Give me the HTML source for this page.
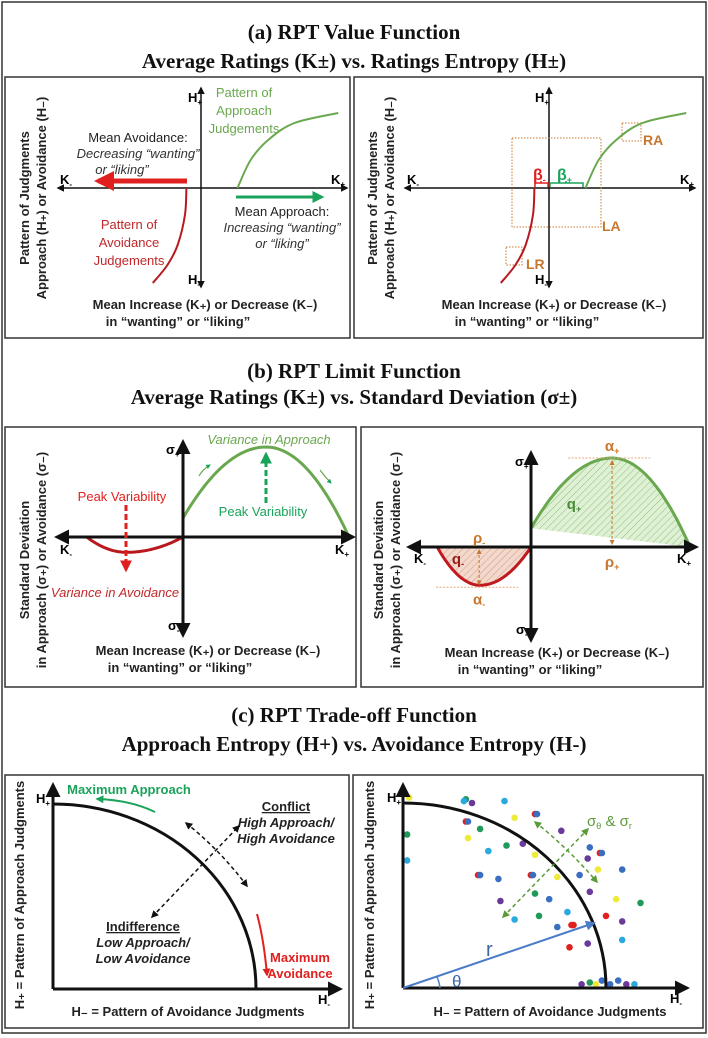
<!DOCTYPE html>
<html><head><meta charset="utf-8">
<style>
html,body{margin:0;padding:0;background:#fff;}
svg{display:block;font-family:"Liberation Sans",sans-serif;}
.ttl{font-family:"Liberation Serif",serif;font-weight:bold;font-size:21px;fill:#111;text-anchor:middle;}
.ax{font-weight:bold;font-size:13px;fill:#222;text-anchor:middle;}
.lab{font-size:13px;text-anchor:middle;}
.box{fill:none;stroke:#333;stroke-width:1.5;}
</style></head>
<body>
<svg id="fig" width="708" height="1038" viewBox="0 0 708 1038" xmlns="http://www.w3.org/2000/svg">
<defs>
<marker id="mk" viewBox="0 0 10 10" refX="8" refY="5" markerWidth="5" markerHeight="5" orient="auto-start-reverse"><path d="M0,0L10,5L0,10z" fill="#111"/></marker>
<marker id="mr" viewBox="0 0 10 10" refX="8" refY="5" markerWidth="4" markerHeight="4" orient="auto-start-reverse"><path d="M0,0L10,5L0,10z" fill="#e0201f"/></marker>
<marker id="mg" viewBox="0 0 10 10" refX="8" refY="5" markerWidth="4" markerHeight="4" orient="auto-start-reverse"><path d="M0,0L10,5L0,10z" fill="#1aa35a"/></marker>
<marker id="mo" viewBox="0 0 10 10" refX="8" refY="5" markerWidth="5" markerHeight="5" orient="auto-start-reverse"><path d="M0,0L10,5L0,10z" fill="#c8782e"/></marker>
<marker id="mb" viewBox="0 0 10 10" refX="8" refY="5" markerWidth="5" markerHeight="5" orient="auto-start-reverse"><path d="M0,0L10,5L0,10z" fill="#4a7cc8"/></marker>
<marker id="mgd" viewBox="0 0 10 10" refX="8" refY="5" markerWidth="5" markerHeight="5" orient="auto-start-reverse"><path d="M0,0L10,5L0,10z" fill="#5a9a3a"/></marker>
<pattern id="hatchG" width="5" height="5" patternUnits="userSpaceOnUse" patternTransform="rotate(45)"><rect width="5" height="5" fill="#dff0d4"/><line x1="0" y1="0" x2="0" y2="5" stroke="#8cc47a" stroke-width="1"/></pattern>
<pattern id="hatchR" width="5" height="5" patternUnits="userSpaceOnUse" patternTransform="rotate(45)"><rect width="5" height="5" fill="#f3d8cc"/><line x1="0" y1="0" x2="0" y2="5" stroke="#d49a88" stroke-width="1"/></pattern>
</defs>

<rect x="2" y="2" width="704" height="1031" class="box"/>

<!-- Titles -->
<text x="354" y="39" class="ttl">(a) RPT Value Function</text>
<text x="354" y="68" class="ttl">Average Ratings (K±) vs. Ratings Entropy (H±)</text>
<text x="354" y="378" class="ttl">(b) RPT Limit Function</text>
<text x="354" y="404" class="ttl">Average Ratings (K±) vs. Standard Deviation (σ±)</text>
<text x="354" y="722" class="ttl">(c) RPT Trade-off Function</text>
<text x="354" y="751" class="ttl">Approach Entropy (H+) vs. Avoidance Entropy (H-)</text>

<!-- Panel boxes -->
<rect x="5" y="77" width="345" height="261" class="box"/>
<rect x="354" y="77" width="349" height="261" class="box"/>
<rect x="5" y="427" width="351" height="260" class="box"/>
<rect x="361" y="427" width="342" height="260" class="box"/>
<rect x="5" y="775" width="344" height="253" class="box"/>
<rect x="353" y="775" width="350" height="253" class="box"/>

<!-- ===== Panel a left ===== -->
<g>
<line x1="201" y1="287" x2="201" y2="88" stroke="#111" stroke-width="1.5" marker-end="url(#mk)" marker-start="url(#mk)"/>
<line x1="58" y1="188" x2="347" y2="188" stroke="#111" stroke-width="1.5" marker-end="url(#mk)" marker-start="url(#mk)"/>
<text x="188" y="102" font-size="13" font-weight="bold">H<tspan font-size="8" dy="3">+</tspan></text>
<text x="188" y="284" font-size="13" font-weight="bold">H<tspan font-size="8" dy="3">-</tspan></text>
<text x="60" y="184" font-size="13" font-weight="bold">K<tspan font-size="8" dy="3">-</tspan></text>
<text x="331" y="184" font-size="13" font-weight="bold">K<tspan font-size="8" dy="3">+</tspan></text>
<g fill="#6aa84f" class="lab">
<text x="244" y="97" class="lab" fill="#6aa84f">Pattern of</text><text x="244" y="115" class="lab" fill="#6aa84f">Approach</text><text x="244" y="133" class="lab" fill="#6aa84f">Judgements</text></g>
<g>
<text x="129" y="229" class="lab" fill="#c0282a">Pattern of</text><text x="129" y="247" class="lab" fill="#c0282a">Avoidance</text><text x="129" y="265" class="lab" fill="#c0282a">Judgements</text></g>
<line x1="187" y1="181" x2="98" y2="181" stroke="#e0201f" stroke-width="5" marker-end="url(#mr)"/>
<line x1="236" y1="197" x2="322" y2="197" stroke="#1aa35a" stroke-width="3" marker-end="url(#mg)"/>
<g>
<text x="138" y="142" class="lab" fill="#222">Mean Avoidance:</text>
<text x="138" y="158" class="lab" fill="#333" font-style="italic" font-size="11.5">Decreasing “wanting”</text>
<text x="122" y="174" class="lab" fill="#333" font-style="italic" font-size="11.5">or “liking”</text></g>
<g>
<text x="282" y="216" class="lab" fill="#222">Mean Approach:</text>
<text x="282" y="232" class="lab" fill="#333" font-style="italic" font-size="11.5">Increasing “wanting”</text>
<text x="282" y="248" class="lab" fill="#333" font-style="italic" font-size="11.5">or “liking”</text></g>
<text transform="translate(29,198) rotate(-90)" class="ax">Pattern of Judgments</text>
<text transform="translate(46,198) rotate(-90)" class="ax">Approach (H₊) or Avoidance (H₋)</text>
<text x="205" y="309" class="ax">Mean Increase (K₊) or Decrease (K₋)</text>
<text x="178" y="326" class="ax">in “wanting” or “liking”</text>
</g>

<!-- ===== Panel a right ===== -->
<g>
<line x1="549" y1="287" x2="549" y2="88" stroke="#111" stroke-width="1.5" marker-end="url(#mk)" marker-start="url(#mk)"/>
<line x1="405" y1="188" x2="695" y2="188" stroke="#111" stroke-width="1.5" marker-end="url(#mk)" marker-start="url(#mk)"/>
<text x="535" y="102" font-size="13" font-weight="bold">H<tspan font-size="8" dy="3">+</tspan></text>
<text x="535" y="284" font-size="13" font-weight="bold">H<tspan font-size="8" dy="3">-</tspan></text>
<text x="407" y="184" font-size="13" font-weight="bold">K<tspan font-size="8" dy="3">-</tspan></text>
<text x="680" y="184" font-size="13" font-weight="bold">K<tspan font-size="8" dy="3">+</tspan></text>
<g fill="none" stroke="#c8782e" stroke-width="1" stroke-dasharray="1.5,1.5">
<rect x="512" y="138" width="89" height="89"/>
<rect x="622" y="123" width="19" height="18"/>
<rect x="506" y="247" width="16" height="18"/>
</g>
<text x="602" y="231" font-size="14" font-weight="bold" fill="#c8782e">LA</text>
<text x="643" y="145" font-size="14" font-weight="bold" fill="#c8782e">RA</text>
<text x="526" y="269" font-size="14" font-weight="bold" fill="#c8782e">LR</text>
<path d="M535,187 V183 H541 V181 M541,183 H548 V187" fill="none" stroke="#e0201f" stroke-width="1.5"/>
<path d="M550,187 V183 H566 V181 M566,183 H583 V187" fill="none" stroke="#1aa35a" stroke-width="1.5"/>
<text x="533" y="180" font-size="16" font-weight="bold" fill="#e0201f">β<tspan font-size="9" dy="3">-</tspan></text>
<text x="557" y="180" font-size="16" font-weight="bold" fill="#1aa35a">β<tspan font-size="9" dy="3">+</tspan></text>
<text transform="translate(377,198) rotate(-90)" class="ax">Pattern of Judgments</text>
<text transform="translate(394,198) rotate(-90)" class="ax">Approach (H₊) or Avoidance (H₋)</text>
<text x="554" y="309" class="ax">Mean Increase (K₊) or Decrease (K₋)</text>
<text x="527" y="326" class="ax">in “wanting” or “liking”</text>
</g>

<!-- ===== Panel b left ===== -->
<g>
<g id="bL"></g>
<line x1="183" y1="635" x2="183" y2="442" stroke="#111" stroke-width="3" marker-end="url(#mk)" marker-start="url(#mk)"/>
<line x1="57" y1="537" x2="353" y2="537" stroke="#111" stroke-width="3" marker-end="url(#mk)" marker-start="url(#mk)"/>
<text x="166" y="454" font-size="13" font-weight="bold">σ<tspan font-size="8" dy="3">+</tspan></text>
<text x="168" y="630" font-size="13" font-weight="bold">σ<tspan font-size="8" dy="3">-</tspan></text>
<text x="60" y="554" font-size="13" font-weight="bold">K<tspan font-size="8" dy="3">-</tspan></text>
<text x="335" y="554" font-size="13" font-weight="bold">K<tspan font-size="8" dy="3">+</tspan></text>
<text x="269" y="444" class="lab" fill="#6aa84f" font-style="italic">Variance in Approach</text>
<text x="263" y="516" class="lab" fill="#1aa35a">Peak Variability</text>
<line x1="266" y1="503" x2="266" y2="454" stroke="#1aa35a" stroke-width="3" stroke-dasharray="6,3" marker-end="url(#mg)"/>
<text x="122" y="501" class="lab" fill="#e0201f">Peak Variability</text>
<line x1="126" y1="505" x2="126" y2="570" stroke="#e0201f" stroke-width="3" stroke-dasharray="6,3" marker-end="url(#mr)"/>
<text x="115" y="597" class="lab" fill="#c0282a" font-style="italic">Variance in Avoidance</text>
<path d="M199,476 Q203,469 210,465" fill="none" stroke="#6aa84f" stroke-width="1.2" marker-end="url(#mg)"/>
<path d="M320,470 Q325,477 331,483" fill="none" stroke="#6aa84f" stroke-width="1.2" marker-end="url(#mg)"/>
<text transform="translate(29,560) rotate(-90)" class="ax">Standard Deviation</text>
<text transform="translate(46,560) rotate(-90)" class="ax">in Approach (σ₊) or Avoidance (σ₋)</text>
<text x="208" y="655" class="ax">Mean Increase (K₊) or Decrease (K₋)</text>
<text x="180" y="672" class="ax">in “wanting” or “liking”</text>
</g>

<!-- ===== Panel b right ===== -->
<g>
<g id="bR"></g>
<line x1="531" y1="640" x2="531" y2="453" stroke="#111" stroke-width="3" marker-end="url(#mk)" marker-start="url(#mk)"/>
<line x1="409" y1="547" x2="696" y2="547" stroke="#111" stroke-width="3" marker-end="url(#mk)" marker-start="url(#mk)"/>
<text x="515" y="466" font-size="13" font-weight="bold">σ<tspan font-size="8" dy="3">+</tspan></text>
<text x="516" y="634" font-size="13" font-weight="bold">σ<tspan font-size="8" dy="3">-</tspan></text>
<text x="414" y="563" font-size="13" font-weight="bold">K<tspan font-size="8" dy="3">-</tspan></text>
<text x="677" y="563" font-size="13" font-weight="bold">K<tspan font-size="8" dy="3">+</tspan></text>
<g id="bRann"></g>
<text transform="translate(383,560) rotate(-90)" class="ax">Standard Deviation</text>
<text transform="translate(400,560) rotate(-90)" class="ax">in Approach (σ₊) or Avoidance (σ₋)</text>
<text x="557" y="657" class="ax">Mean Increase (K₊) or Decrease (K₋)</text>
<text x="530" y="674" class="ax">in “wanting” or “liking”</text>
</g>

<!-- ===== Panel c left ===== -->
<g>
<path d="M53,804 A203,185 0 0 1 256,989" fill="none" stroke="#111" stroke-width="3"/>
<line x1="53" y1="989" x2="53" y2="785" stroke="#111" stroke-width="3" marker-end="url(#mk)"/>
<line x1="53" y1="989" x2="340" y2="989" stroke="#111" stroke-width="3" marker-end="url(#mk)"/>
<text x="36" y="803" font-size="13" font-weight="bold">H<tspan font-size="8" dy="3">+</tspan></text>
<text x="318" y="1004" font-size="13" font-weight="bold">H<tspan font-size="8" dy="3">-</tspan></text>
<text x="129" y="794" class="lab" font-weight="bold" fill="#1aa35a" font-size="12">Maximum Approach</text>
<path d="M155,812 Q130,800 97,799" fill="none" stroke="#1aa35a" stroke-width="2" marker-end="url(#mg)"/>
<text x="286" y="811" class="lab" font-weight="bold" fill="#222" font-size="12" text-decoration="underline">Conflict</text>
<text x="286" y="827" class="lab" font-weight="bold" font-style="italic" fill="#222" font-size="12">High Approach/</text>
<text x="286" y="843" class="lab" font-weight="bold" font-style="italic" fill="#222" font-size="12">High Avoidance</text>
<text x="143" y="931" class="lab" font-weight="bold" fill="#222" font-size="12" text-decoration="underline">Indifference</text>
<text x="143" y="947" class="lab" font-weight="bold" font-style="italic" fill="#222" font-size="12">Low Approach/</text>
<text x="143" y="963" class="lab" font-weight="bold" font-style="italic" fill="#222" font-size="12">Low Avoidance</text>
<line x1="152" y1="917" x2="239" y2="826" stroke="#111" stroke-width="1.5" stroke-dasharray="4,3" marker-end="url(#mk)" marker-start="url(#mk)"/>
<path d="M186,823 Q220,850 247,886" fill="none" stroke="#111" stroke-width="1.5" stroke-dasharray="4,3" marker-end="url(#mk)" marker-start="url(#mk)"/>
<path d="M257,914 Q264,940 267,975" fill="none" stroke="#e0201f" stroke-width="2" marker-end="url(#mr)"/>
<text x="300" y="962" class="lab" font-weight="bold" fill="#e0201f" font-size="12">Maximum</text>
<text x="300" y="978" class="lab" font-weight="bold" fill="#e0201f" font-size="12">Avoidance</text>
<text transform="translate(24,895) rotate(-90)" class="ax">H₊ = Pattern of Approach Judgments</text>
<text x="188" y="1016" class="ax">H₋ = Pattern of Avoidance Judgments</text>
</g>

<!-- ===== Panel c right ===== -->
<g>
<g id="cRdots"></g>
<path d="M403,803 A203,185 0 0 1 606,988" fill="none" stroke="#111" stroke-width="3"/>
<line x1="403" y1="988" x2="403" y2="785" stroke="#111" stroke-width="3" marker-end="url(#mk)"/>
<line x1="403" y1="988" x2="687" y2="988" stroke="#111" stroke-width="3" marker-end="url(#mk)"/>
<text x="387" y="802" font-size="13" font-weight="bold">H<tspan font-size="8" dy="3">+</tspan></text>
<text x="670" y="1003" font-size="13" font-weight="bold">H<tspan font-size="8" dy="3">-</tspan></text>
<line x1="403" y1="988" x2="594" y2="923" stroke="#4a7cc8" stroke-width="2" marker-end="url(#mb)"/>
<path d="M437,977 A36,36 0 0 1 440,988" fill="none" stroke="#4a7cc8" stroke-width="1.5"/>
<text x="452" y="987" font-size="17" fill="#3a64a8">θ</text>
<text x="486" y="956" font-size="20" fill="#3a64a8">r</text>
<line x1="503" y1="917" x2="588" y2="829" stroke="#5a9a3a" stroke-width="1.5" stroke-dasharray="4,3" marker-end="url(#mgd)" marker-start="url(#mgd)"/>
<path d="M535,822 Q568,848 597,882" fill="none" stroke="#5a9a3a" stroke-width="1.5" stroke-dasharray="4,3" marker-end="url(#mgd)" marker-start="url(#mgd)"/>
<text x="587" y="826" font-size="15" fill="#5a9a3a">σ<tspan font-size="9" dy="3">θ</tspan><tspan dy="-3"> &amp; σ</tspan><tspan font-size="9" dy="3">r</tspan></text>
<text transform="translate(374,895) rotate(-90)" class="ax">H₊ = Pattern of Approach Judgments</text>
<text x="550" y="1016" class="ax">H₋ = Pattern of Avoidance Judgments</text>
</g>
<g id="aCurves"></g>
</svg>

<script>
// ---- Panel (a) value function curves (data units: K along x, H along y) ----
const approachK = [0.25, 0.34, 0.46, 0.64, 0.94];
const approachH = [0.00, 0.28, 0.48, 0.65, 0.75];
const avoidK = [-0.10, -0.11, -0.16, -0.23, -0.33];
const avoidH = [0.00, -0.27, -0.57, -0.77, -0.95];
// ---- Panel (b) limit function: [startK, startSigma, peakK, peakSigma, endK, endSigma] ----
const limitApproachLeft = [0, 0.21, 0.50, 1.00, 1.00, 0];
const limitAvoidLeft = [-0.58, 0, -0.34, -0.17, 0, 0];
const limitApproachRight = [0, 0.21, 0.51, 1.00, 1.00, 0];
const limitAvoidRight = [-0.59, 0, -0.32, -0.43, 0, 0];
// ---- Panel (c) scatter (H- along x, H+ along y; arc = 1) ----
const dotX = [0.03,0.31,0.30,0.34,0.50,0.55,0.65,0.66,0.31,0.32,0.38,0.32,0.02,0.02,0.42,0.51,0.59,0.65,0.78,0.92,0.97,0.98,0.91,0.96,1.08,0.37,0.38,0.47,0.63,0.64,0.76,0.87,0.92,0.65,0.72,0.48,1.05,1.17,0.55,0.67,0.81,0.76,0.83,0.84,1.00,1.08,0.82,0.91,1.08,0.88,0.92,0.95,0.98,1.02,1.06,1.10,1.14];
const dotY = [1.03,1.02,1.01,1.00,1.01,0.92,0.94,0.94,0.90,0.90,0.86,0.81,0.83,0.69,0.74,0.77,0.78,0.72,0.85,0.76,0.73,0.73,0.70,0.64,0.64,0.61,0.61,0.59,0.61,0.61,0.60,0.61,0.52,0.51,0.48,0.47,0.48,0.46,0.37,0.39,0.41,0.33,0.34,0.34,0.39,0.36,0.22,0.24,0.26,0.02,0.03,0.02,0.04,0.02,0.04,0.02,0.02];
const dotGroup = ["Y","G","C","P","C","Y","R","B","R","B","G","Y","G","C","C","G","P","Y","P","B","R","B","P","Y","B","R","B","B","R","B","Y","B","P","G","B","P","Y","G","C","G","C","B","R","R","R","P","R","P","C","P","G","Y","B","B","B","P","C"];
const groupColor = {Y:"#eeea3a",G:"#1f9a5a",C:"#2aa8e0",P:"#6a3a9a",R:"#e0201f",B:"#3a6ec0"};

const NS = "http://www.w3.org/2000/svg";
function axes(ox, oy, ux, uy){ return {x: v => ox + v*ux, y: v => oy - v*uy}; }
function smoothPath(ax, xs, ys){
  const p = xs.map((v,i)=>[ax.x(v), ax.y(ys[i])]);
  let d = "M"+p[0][0]+","+p[0][1];
  for(let i=0;i<p.length-1;i++){
    const p0=p[i-1]||p[i], p1=p[i], p2=p[i+1], p3=p[i+2]||p2;
    const c1=[p1[0]+(p2[0]-p0[0])/6, p1[1]+(p2[1]-p0[1])/6];
    const c2=[p2[0]-(p3[0]-p1[0])/6, p2[1]-(p3[1]-p1[1])/6];
    d+=" C"+c1+" "+c2+" "+p2;
  }
  return d;
}
function humpPath(ax, c){
  const [x0,y0,xp,yp,x1,y1]=c; let d="";
  for(let i=0;i<=60;i++){
    const x = x0 + (x1-x0)*i/60; let y;
    if(x<=xp) y = yp-(yp-y0)*Math.pow((xp-x)/(xp-x0),2);
    else y = yp-(yp-y1)*Math.pow((x-xp)/(x1-xp),2);
    d += (i?" L":"M")+ax.x(x).toFixed(1)+","+ax.y(y).toFixed(1);
  }
  return d;
}
function mk(tag, parent, attrs){
  const e=document.createElementNS(NS,tag);
  for(const k in attrs) e.setAttribute(k,attrs[k]);
  parent.appendChild(e); return e;
}

// Panel a curves
const aG = document.getElementById("aCurves");
[axes(201,188,146,100), axes(549,188,146,100)].forEach((ax,idx)=>{
  const g = mk("path", aG, {d:smoothPath(ax,approachK,approachH), fill:"none", stroke:"#6aa84f", "stroke-width":2});
  
  
  const r = mk("path", aG, {d:smoothPath(ax,avoidK,avoidH), fill:"none", stroke:"#b8191e", "stroke-width":2});
  
  
});

// Panel b left
const bL = document.getElementById("bL");
const axBL = axes(183,537,166,90);
let e1 = mk("path", bL, {d:humpPath(axBL,limitApproachLeft), fill:"none", stroke:"#6aa84f", "stroke-width":3});


let e2 = mk("path", bL, {d:humpPath(axBL,limitAvoidLeft), fill:"none", stroke:"#b8191e", "stroke-width":3});



// Panel b right (filled + annotations)
const bR = document.getElementById("bR");
const axBR = axes(531,547,159,89);
let f1 = mk("path", bR, {d:humpPath(axBR,limitApproachRight)+" Z", fill:"url(#hatchG)", stroke:"none"});


let f2 = mk("path", bR, {d:humpPath(axBR,limitAvoidRight)+" Z", fill:"url(#hatchR)", stroke:"none"});


let c1 = mk("path", bR, {d:humpPath(axBR,limitApproachRight), fill:"none", stroke:"#6aa84f", "stroke-width":3});


let c2 = mk("path", bR, {d:humpPath(axBR,limitAvoidRight), fill:"none", stroke:"#c0191e", "stroke-width":3});



const ann = document.getElementById("bRann");
const O="#c8782e";
const pkX=axBR.x(limitApproachRight[2]), pkY=axBR.y(limitApproachRight[3]);
const mnX=axBR.x(limitAvoidRight[2]), mnY=axBR.y(limitAvoidRight[3]);
let l1 = mk("line", ann, {x1:pkX-44,y1:pkY,x2:pkX+38,y2:pkY,stroke:"#e8a878","stroke-width":1,"stroke-dasharray":"2,1.5"});


let l2 = mk("line", ann, {x1:pkX,y1:pkY+3,x2:pkX,y2:axBR.y(0)-3,stroke:O,"stroke-width":1,"stroke-dasharray":"3,2","marker-start":"url(#mo)","marker-end":"url(#mo)"});


let l3 = mk("line", ann, {x1:mnX-44,y1:mnY+2,x2:mnX+38,y2:mnY+2,stroke:"#e8a878","stroke-width":1,"stroke-dasharray":"2,1.5"});


let l4 = mk("line", ann, {x1:mnX-1,y1:axBR.y(0)+3,x2:mnX-1,y2:mnY-1,stroke:O,"stroke-width":1,"stroke-dasharray":"3,2","marker-start":"url(#mo)","marker-end":"url(#mo)"});


function lbl(x,y,txt,sub,col,name){
  const t = mk("text", ann, {x:x,y:y,"font-size":15,"font-weight":"bold",fill:col,"text-anchor":"middle"});
  t.textContent = txt;
  const s = mk("tspan", t, {"font-size":9,dy:3}); s.textContent = sub;
  
  
}
lbl(pkX, pkY-7, "α", "+", O, "alpha-plus-label");
lbl(pkX, axBR.y(0)+20, "ρ", "+", O, "rho-plus-label");
lbl(mnX-1, mnY+19, "α", "-", O, "alpha-minus-label");
lbl(mnX-1, axBR.y(0)-4, "ρ", "-", O, "rho-minus-label");
lbl(458, 564, "q", "-", "#9a1a1a", "q-minus-label");
lbl(574, 509, "q", "+", "#4a8a3a", "q-plus-label");

// Panel c scatter
const dG = document.getElementById("cRdots");
const axC = axes(403,988,203,185);
dotX.forEach((v,i)=>{
  const c = mk("circle", dG, {cx:axC.x(v).toFixed(1), cy:axC.y(dotY[i]).toFixed(1), r:3.3, fill:groupColor[dotGroup[i]]});
  
  
});
</script>
</body></html>
